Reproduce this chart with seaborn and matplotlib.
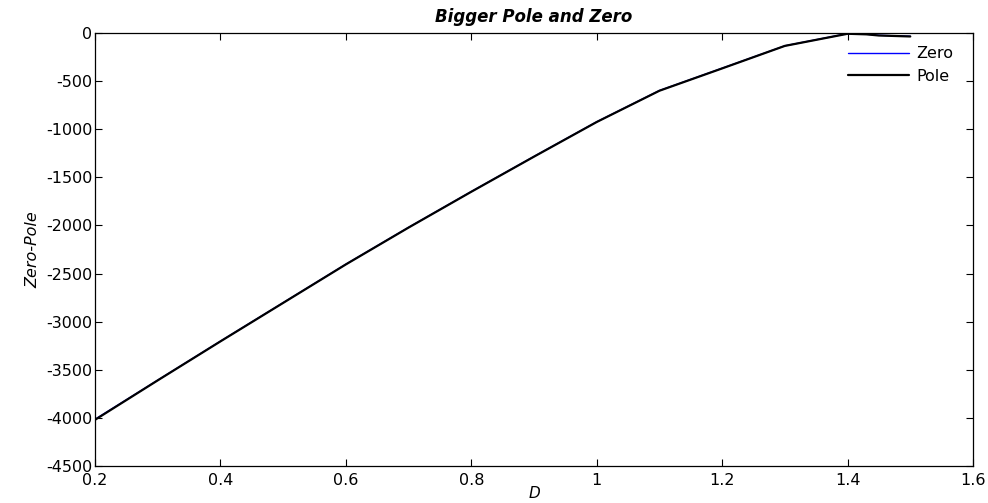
import matplotlib
matplotlib.use("Agg")
import matplotlib.pyplot as plt
import seaborn as sns
import pandas as pd

# Sweep of parameter D and the larger pole / zero locations
d_values = [0.2, 0.3, 0.4, 0.5, 0.6, 0.7, 0.8, 0.9, 1.0, 1.1, 1.2, 1.3, 1.4, 1.43, 1.45, 1.5]
zero_values = [-4015, -3608, -3203, -2803, -2403, -2020, -1648, -1283, -923, -598, -366, -133, -6, -12, -24, -34]
pole_values = [-4020, -3610, -3205, -2805, -2405, -2022, -1650, -1285, -925, -600, -368, -134, -8, -14, -26, -36]

x_ticks = [0.2, 0.4, 0.6, 0.8, 1.0, 1.2, 1.4, 1.6]
x_tick_labels = ["0.2", "0.4", "0.6", "0.8", "1", "1.2", "1.4", "1.6"]
y_ticks = [0, -500, -1000, -1500, -2000, -2500, -3000, -3500, -4000, -4500]

sns.set_style("ticks")
plt.rcParams["font.family"] = ["DejaVu Sans"]
plt.rcParams.update({
    "text.color": "black",
    "axes.labelcolor": "black",
    "xtick.color": "black",
    "ytick.color": "black",
    "xtick.direction": "in",
    "ytick.direction": "in",
    "xtick.top": True,
    "ytick.right": True,
    "xtick.major.size": 5,
    "ytick.major.size": 5,
    "xtick.major.width": 0.8,
    "ytick.major.width": 0.8,
    "axes.linewidth": 0.9,
    "axes.edgecolor": "black",
})

zero_df = pd.DataFrame({"D": d_values, "value": zero_values})
pole_df = pd.DataFrame({"D": d_values, "value": pole_values})

fig = plt.figure(figsize=(9.88, 5.03), dpi=100)
ax = fig.add_axes([95 / 988, 1 - 466 / 503, (973 - 95) / 988, (466 - 33) / 503])

sns.lineplot(data=zero_df, x="D", y="value", ax=ax, color="#0000ff",
             linewidth=1.0, label="Zero", sort=False, estimator=None)
sns.lineplot(data=pole_df, x="D", y="value", ax=ax, color="black",
             linewidth=1.6, label="Pole", sort=False, estimator=None)

ax.set_xlim(0.2, 1.6)
ax.set_ylim(-4500, 0)
ax.set_xticks(x_ticks)
ax.set_xticklabels(x_tick_labels)
ax.set_yticks(y_ticks)
ax.set_yticklabels([str(v) for v in y_ticks])
ax.tick_params(axis="x", labelsize=11.5, pad=5)
ax.tick_params(axis="y", labelsize=11.5, pad=2)
for side in ["top", "right", "left", "bottom"]:
    ax.spines[side].set_visible(True)

ax.set_title("Bigger Pole and Zero", fontsize=12, fontweight="bold",
             fontstyle="italic", pad=8)
ax.set_xlabel("D", fontsize=11, fontstyle="italic", labelpad=-1.5)
ax.set_ylabel("Zero-Pole", fontsize=11.5, fontstyle="italic", labelpad=4)

leg = ax.legend(loc="upper right", frameon=False, fontsize=11.5,
                handlelength=3.8, handletextpad=0.45, labelspacing=0.45,
                borderaxespad=0.3, bbox_to_anchor=(0.99, 0.995))

fig.savefig("out.png", dpi=100, facecolor="white")
